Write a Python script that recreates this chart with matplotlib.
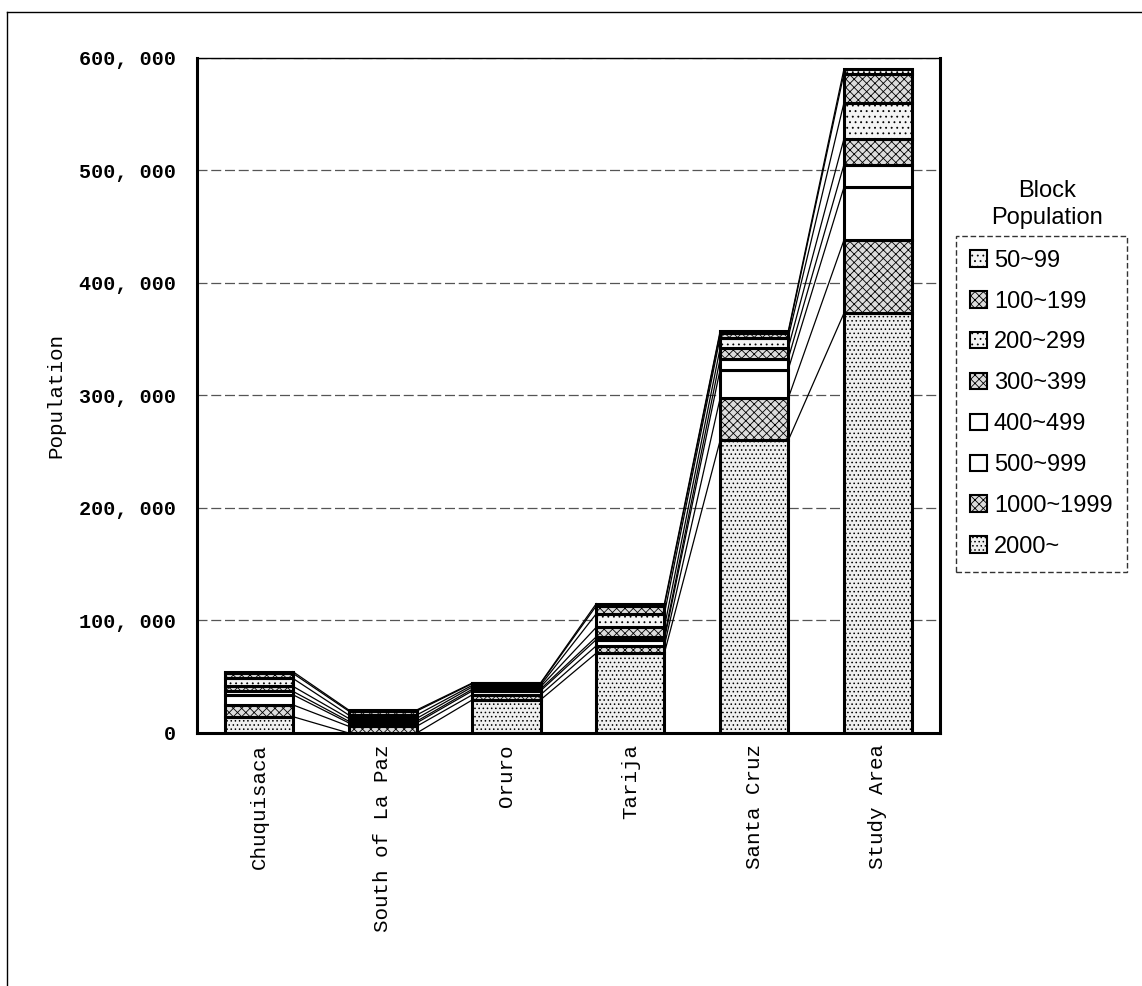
import matplotlib.pyplot as plt
import matplotlib.patches as mpatches
from matplotlib.lines import Line2D
from matplotlib.ticker import FuncFormatter
import numpy as np

# regions (x axis)
regions = ["Chuquisaca", "South of La Paz", "Oruro", "Tarija", "Santa Cruz", "Study Area"]

# block population classes, legend order (top of stack first)
classes = ["50~99", "100~199", "200~299", "300~399", "400~499", "500~999", "1000~1999", "2000~"]

# population by class for each region
pop_2000 = [14500, 0, 29500, 71000, 260000, 373000]
pop_1000_1999 = [10500, 6000, 4500, 6500, 37500, 65000]
pop_500_999 = [9000, 3000, 3500, 5500, 25500, 47000]
pop_400_499 = [3000, 1500, 1500, 2500, 9500, 20000]
pop_300_399 = [4500, 2500, 2000, 8500, 9500, 23000]
pop_200_299 = [7000, 3000, 1500, 12000, 9500, 32000]
pop_100_199 = [4500, 3500, 1500, 7000, 4000, 26000]
pop_50_99 = [1500, 1000, 500, 2000, 1500, 4000]

yticks = [0, 100000, 200000, 300000, 400000, 500000, 600000]

# bottom-to-top stacking: (class, values, face, hatch)
stack = [
    ("2000~", pop_2000, "#efefef", "...."),
    ("1000~1999", pop_1000_1999, "#dcdcdc", "xxxx"),
    ("500~999", pop_500_999, "white", ""),
    ("400~499", pop_400_499, "white", ""),
    ("300~399", pop_300_399, "#dcdcdc", "xxxx"),
    ("200~299", pop_200_299, "#f4f4f4", "..."),
    ("100~199", pop_100_199, "#dcdcdc", "xxxx"),
    ("50~99", pop_50_99, "#f4f4f4", "..."),
]

plt.rcParams["hatch.color"] = "#8a8a8a"
plt.rcParams["hatch.linewidth"] = 0.6

fig = plt.figure(figsize=(11.42, 9.86), dpi=100)
ax = fig.add_axes([0.1725, 0.2566, 0.6505, 0.6846])

x = np.arange(len(regions))
width = 0.55
bottom = np.zeros(len(regions))
tops = []
styles = {}
for name, vals, face, hatch in stack:
    vals = np.array(vals, dtype=float)
    ax.bar(x, vals, width, bottom=bottom, facecolor=face, edgecolor="black",
           linewidth=2.2, hatch=hatch, zorder=3)
    bottom = bottom + vals
    tops.append(bottom.copy())
    styles[name] = (face, hatch)

# series lines between neighbouring bars
for t in tops:
    for i in range(len(regions) - 1):
        ax.plot([x[i] + width / 2, x[i + 1] - width / 2], [t[i], t[i + 1]],
                color="black", linewidth=0.9, zorder=2)

ax.set_xlim(-0.5, len(regions) - 0.5)
ax.set_ylim(0, 600000)
ax.set_yticks(yticks)
ax.yaxis.set_major_formatter(FuncFormatter(lambda v, p: f"{int(v):,}".replace(",", ", ")))
ax.yaxis.grid(True, color="#555555", linestyle=(0, (8, 3)), linewidth=0.9, zorder=0)
ax.tick_params(axis="y", length=0, pad=15)
ax.tick_params(axis="x", length=0, pad=8)
ax.set_xticks(x)
ax.set_xticklabels(regions, rotation=90, family="Liberation Mono", fontsize=15)
for lbl in ax.get_yticklabels():
    lbl.set_family("Liberation Mono")
    lbl.set_fontsize(14.5)
    lbl.set_weight("bold")
ax.set_ylabel("Population", family="Liberation Mono", fontsize=15, labelpad=10)

for side in ["left", "bottom", "right"]:
    ax.spines[side].set_linewidth(2.2)
ax.spines["top"].set_linewidth(1.0)

# legend, title sits above its box
handles = [mpatches.Patch(facecolor=styles[c][0], edgecolor="black", hatch=styles[c][1], linewidth=1.5)
           for c in classes]
leg = ax.legend(handles, classes, loc="upper left", bbox_to_anchor=(1.022, 0.737),
                prop={"family": "Liberation Sans", "size": 17}, frameon=True,
                fancybox=False, handlelength=0.7, handleheight=0.7, handletextpad=0.3,
                labelspacing=0.8, borderpad=0.6, borderaxespad=0)
leg.get_frame().set_edgecolor("black")
leg.get_frame().set_linestyle((0, (4, 2)))
leg.get_frame().set_linewidth(1.0)
fig.text(0.917, 0.768, "Block\nPopulation", ha="center", va="bottom",
         family="Liberation Sans", fontsize=17, linespacing=1.3)

# outer frame of the scanned page
fig.add_artist(Line2D([0.006, 0.006], [0.0, 0.988], color="black", linewidth=1.0))
fig.add_artist(Line2D([0.006, 1.0], [0.988, 0.988], color="black", linewidth=1.0))

fig.savefig("out.png", dpi=100)
